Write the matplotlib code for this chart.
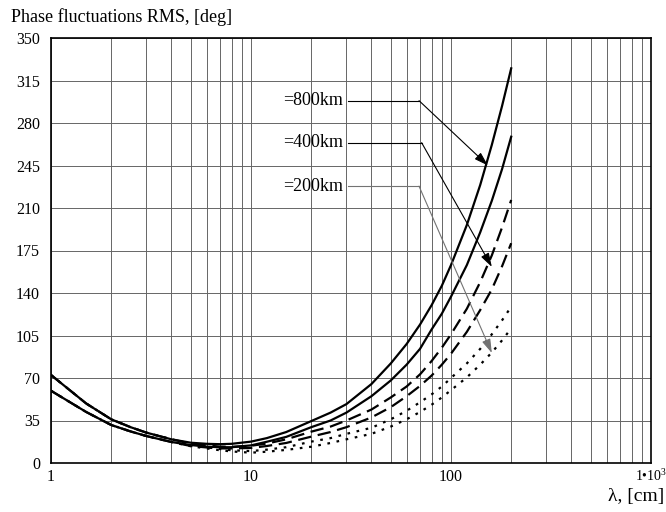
import matplotlib
matplotlib.use("Agg")
import matplotlib.pyplot as plt

OUT_FILE = "out.png"

# Comprimento de onda, cm
LAMBDA_CM = [1, 1.5, 2, 2.5, 3, 4, 5, 6, 7, 8, 10, 12, 15, 20, 25, 30, 40, 50,
             60, 70, 80, 90, 100, 120, 140, 160, 180, 200]

# RMS das flutuacoes de fase, graus (dois casos para cada altura)
RMS_800_A = [72.5, 49, 36, 29.5, 25, 19.5, 16.7, 15.8, 15.5, 15.8, 17.6, 20.5, 25.5, 34.5, 41.5, 48.5,
             65, 82, 98, 114, 130, 146, 163, 196, 229, 262, 294, 325]
RMS_800_B = [59.5, 42, 31.3, 26, 22.2, 17.3, 14.8, 13.5, 13, 13, 14.5, 17.5, 21.5, 29.5, 35, 41.5,
             55, 68, 81, 94, 110, 123, 137, 163, 190, 216, 242, 268.7]
RMS_400_A = [72.5, 49, 36, 29.5, 25, 19.5, 16, 14.5, 13.5, 13.3, 14.2, 16, 19.5, 25.8, 30, 35,
             44, 54, 63, 73, 84, 95, 106, 127, 149, 171, 194, 216.6]
RMS_400_B = [59.5, 42, 31.3, 26, 22.2, 17.3, 14, 12.8, 12, 12, 12.4, 14, 16.5, 21.7, 25.5, 29.5,
             37.5, 46, 55, 63.5, 72, 81, 90, 108, 126, 143, 162, 181]
RMS_200_A = [72.5, 49, 36, 29.5, 25, 19.5, 15.5, 13, 11.5, 10.5, 9.8, 11, 13, 17.6, 20.5, 24,
             29, 36, 43, 50, 56.5, 63, 70, 82, 94, 106, 117.5, 128.7]
RMS_200_B = [59.5, 42, 31.3, 26, 22.2, 17.3, 13.8, 12, 10.5, 9.5, 8.5, 9.3, 10.8, 13.4, 16.5, 19.5,
             24, 30, 36, 42, 48, 54, 60, 70.5, 81, 91, 101, 110.9]

Y_TICKS = [0, 35, 70, 105, 140, 175, 210, 245, 280, 315, 350]
X_TICKS = [1, 10, 100, 1000]
X_TICK_LABELS = ["1", "10", "100", "1•10$^{3}$"]

# Legendas: texto, ponto (lambda, rms) da seta, y do texto, fim da linha horizontal
LABELS = ["=800km", "=400km", "=200km"]
ARROW_TIPS = [(153, 245), (160, 161.5), (160, 90.6)]
LABEL_Y = [298.4, 263.8, 228]
ELBOW_X = [69.2, 71.3, 69.2]
LEADER_COLORS = ["black", "black", "0.45"]


def main():
    plt.rcParams["font.family"] = ["Liberation Serif", "DejaVu Serif"]
    plt.rcParams["mathtext.fontset"] = "custom"
    plt.rcParams["mathtext.rm"] = "Liberation Serif"
    plt.rcParams["mathtext.it"] = "Liberation Serif"

    fig = plt.figure(figsize=(6.66, 5.12), dpi=100)
    ax = fig.add_axes([51 / 666, 49 / 512, 600 / 666, 425 / 512])

    ax.set_xscale("log")
    ax.set_xlim(1, 1000)
    ax.set_ylim(0, 350)

    # Curvas
    ax.plot(LAMBDA_CM, RMS_800_A, color="black", lw=1.6)
    ax.plot(LAMBDA_CM, RMS_800_B, color="black", lw=1.6)
    ax.plot(LAMBDA_CM, RMS_400_A, color="black", lw=1.6, linestyle=(0, (6, 3)))
    ax.plot(LAMBDA_CM, RMS_400_B, color="black", lw=1.6, linestyle=(0, (6, 3)))
    ax.plot(LAMBDA_CM, RMS_200_A, color="black", lw=1.6, linestyle=(0, (1.2, 3)))
    ax.plot(LAMBDA_CM, RMS_200_B, color="black", lw=1.6, linestyle=(0, (1.2, 3)))

    # Grade
    ax.set_yticks(Y_TICKS)
    ax.set_xticks(X_TICKS)
    ax.set_xticklabels(X_TICK_LABELS)
    ax.grid(True, which="both", color="0.4", lw=0.7)
    ax.set_axisbelow(True)
    ax.tick_params(which="both", length=0, labelsize=11.5)
    ax.tick_params(axis="y", pad=8)
    ax.tick_params(axis="x", pad=4)
    ax.get_xticklabels()[-1].set_fontsize(10)
    for spine in ax.spines.values():
        spine.set_linewidth(1.2)

    # Legendas com setas
    for i in range(len(LABELS)):
        ax.text(28.8, LABEL_Y[i], LABELS[i], ha="right", va="center", fontsize=13)
        ax.plot([30.5, ELBOW_X[i]], [LABEL_Y[i], LABEL_Y[i]], color=LEADER_COLORS[i], lw=0.8)
        ax.annotate("", xy=ARROW_TIPS[i], xytext=(ELBOW_X[i], LABEL_Y[i]),
                    arrowprops=dict(arrowstyle="-|>,head_length=0.7,head_width=0.22",
                                    color=LEADER_COLORS[i], lw=0.8, mutation_scale=12,
                                    shrinkA=0, shrinkB=0))

    fig.text(11 / 666, 1 - 17 / 512, "Phase fluctuations RMS, [deg]",
             ha="left", va="center", fontsize=13)
    fig.text(664 / 666, 1 - 497 / 512, "λ, [cm]", ha="right", va="center", fontsize=14)

    fig.savefig(OUT_FILE, dpi=100)


if __name__ == "__main__":
    main()
